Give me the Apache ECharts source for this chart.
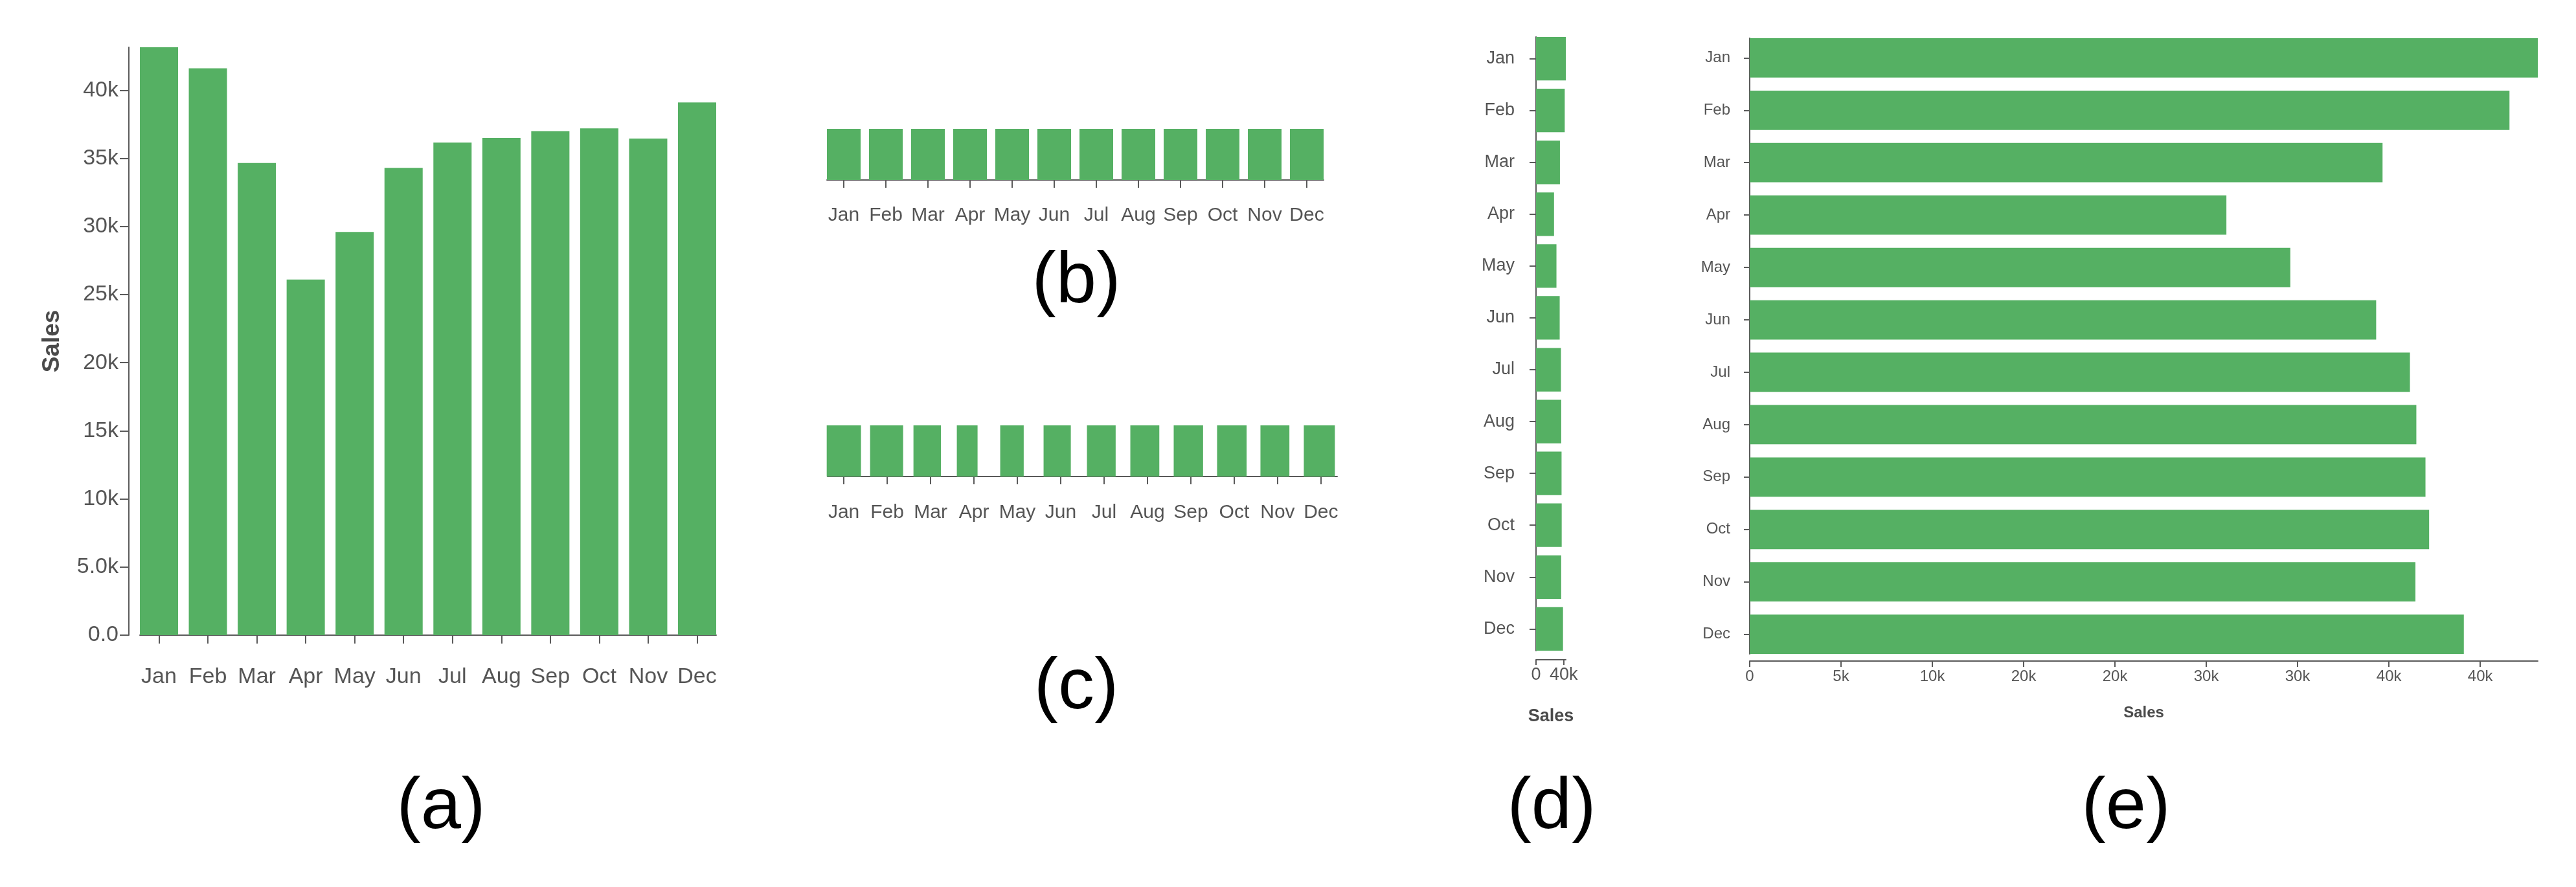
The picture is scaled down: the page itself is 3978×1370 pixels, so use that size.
<!DOCTYPE html>
<html>
<head>
<meta charset="utf-8">
<script src="https://cdn.jsdelivr.net/npm/echarts@6/dist/echarts.min.js"></script>
<style>
  html, body { margin: 0; padding: 0; background: #fff; }
  #chart { width: 3978px; height: 1370px; }
</style>
</head>
<body>
<div id="chart"></div>
<script>
// data (same monthly sales in every panel)
const months = ['Jan', 'Feb', 'Mar', 'Apr', 'May', 'Jun', 'Jul', 'Aug', 'Sep', 'Oct', 'Nov', 'Dec'];
const sales = [43150, 41600, 34650, 26100, 29600, 34300, 36150, 36500, 37000, 37200, 36450, 39100];

// tick values and their labels
const salesTicksA = [0, 5000, 10000, 15000, 20000, 25000, 30000, 35000, 40000];
const salesLabelsA = ['0.0', '5.0k', '10k', '15k', '20k', '25k', '30k', '35k', '40k'];
const salesTicksD = [0, 40000];
const salesLabelsD = ['0', '40k'];
const salesTicksE = [0, 5000, 10000, 15000, 20000, 25000, 30000, 35000, 40000];
const salesLabelsE = ['0', '5k', '10k', '20k', '20k', '30k', '30k', '40k', '40k'];

const GREEN = '#55b063';
const AXIS = '#5a5a5a';
const TEXT = '#555555';
const FONT = 'Liberation Sans, Arial, sans-serif';

const monthIdx = months.map((m, i) => i);
const maxSales = Math.max(...sales);
const minSales = Math.min(...sales);

function axis(o) {
  return {
    type: 'value',
    gridIndex: o.grid,
    min: o.min,
    max: o.max,
    inverse: !!o.inverse,
    offset: o.offset || 0,
    show: o.show !== false,
    axisLine: {show: true, onZero: false, lineStyle: {color: AXIS, width: 2}},
    axisTick: {show: true, length: o.tick, customValues: o.ticks, lineStyle: {color: AXIS, width: 2}},
    axisLabel: {
      show: true, customValues: o.ticks, fontSize: o.fontSize, margin: o.margin,
      color: TEXT, fontFamily: FONT, formatter: o.formatter
    },
    splitLine: {show: false},
    name: o.name || '',
    nameLocation: 'middle',
    nameGap: o.nameGap || 0,
    nameTextStyle: {fontSize: o.nameSize || 24, fontWeight: 'bold', color: '#4a4a4a', fontFamily: FONT}
  };
}

const monthFmt = v => months[Math.round(v)];
const bandAxis = (grid, f, fontSize, margin, tick, inverse) => axis({
  grid, min: -f / 2, max: months.length - 1 + f / 2, ticks: monthIdx,
  fontSize, margin, tick, inverse, formatter: monthFmt
});
const hidden = (grid, max) => ({type: 'value', gridIndex: grid, min: 0, max, show: false, splitLine: {show: false}});

// vertical bars: f = bar width in band units
function vBars(f, mode) {
  return function (params, api) {
    const i = api.value(0), v = api.value(1);
    const cs = params.coordSys;
    const base = api.coord([i, 0]);
    let w = api.size([f, 0])[0];
    let x = base[0] - w / 2;
    let top = api.coord([i, v])[1];
    let bottom = base[1];
    if (mode === 'clip') top = Math.max(top, cs.y);
    if (mode === 'width') {
      // width encodes the value, bars start at the band's left edge
      w = api.size([f * v / maxSales, 0])[0];
      x = api.coord([i - f / 2, 0])[0];
      top = cs.y;
      bottom = cs.y + cs.height;
    }
    return {type: 'rect', shape: {x: x, y: top, width: w, height: bottom - top}, style: {fill: GREEN}};
  };
}

// horizontal bars
function hBars(f) {
  return function (params, api) {
    const v = api.value(0), i = api.value(1);
    const p0 = api.coord([0, i]);
    const p1 = api.coord([v, i]);
    const h = api.size([0, f])[1];
    return {type: 'rect', shape: {x: p0[0], y: p0[1] - h / 2, width: p1[0] - p0[0], height: h}, style: {fill: GREEN}};
  };
}

const vData = sales.map((v, i) => [i, v]);
const hData = sales.map((v, i) => [v, i]);

const F_A = 0.781, F_B = 0.8, F_C = 0.75, F_D = 0.84, F_E = 0.75;

const chart = echarts.init(document.getElementById('chart'));
chart.setOption({
  animation: false,
  backgroundColor: '#fff',
  grid: [
    {left: 216, top: 73, width: 890, height: 908, outerBoundsMode: 'none'},
    {left: 1277, top: 199, width: 767, height: 79, outerBoundsMode: 'none'},
    {left: 1278, top: 657, width: 787, height: 79, outerBoundsMode: 'none'},
    {left: 2372, top: 57, width: 46, height: 948, outerBoundsMode: 'none'},
    {left: 2702, top: 59, width: 1217, height: 951, outerBoundsMode: 'none'}
  ],
  xAxis: [
    bandAxis(0, F_A, 34, 48, 13),
    bandAxis(1, F_B, 30, 40, 12),
    bandAxis(2, F_C, 30, 41, 12),
    axis({grid: 3, min: 0, max: maxSales, ticks: salesTicksD, fontSize: 27, margin: 10, tick: 8, offset: 14,
      formatter: v => salesLabelsD[salesTicksD.indexOf(v)], name: 'Sales', nameGap: 74, nameSize: 27}),
    axis({grid: 4, min: 0, max: maxSales, ticks: salesTicksE, fontSize: 24, margin: 12, tick: 9, offset: 11,
      formatter: v => salesLabelsE[salesTicksE.indexOf(v)], name: 'Sales', nameGap: 68, nameSize: 24})
  ],
  yAxis: [
    axis({grid: 0, min: 0, max: maxSales, ticks: salesTicksA, fontSize: 34, margin: 16, tick: 14, offset: 17,
      formatter: v => salesLabelsA[salesTicksA.indexOf(v)], name: 'Sales', nameGap: 100, nameSize: 37}),
    hidden(1, minSales),
    hidden(2, 1),
    bandAxis(3, F_D, 27, 33, 10, true),
    bandAxis(4, F_E, 24, 30, 9, true)
  ],
  series: [
    {type: 'custom', xAxisIndex: 0, yAxisIndex: 0, data: vData, encode: {x: 0, y: 1}, renderItem: vBars(F_A), silent: true},
    {type: 'custom', xAxisIndex: 1, yAxisIndex: 1, data: vData, encode: {x: 0, y: 1}, renderItem: vBars(F_B, 'clip'), silent: true},
    {type: 'custom', xAxisIndex: 2, yAxisIndex: 2, data: vData, encode: {x: 0}, renderItem: vBars(0.79, 'width'), silent: true},
    {type: 'custom', xAxisIndex: 3, yAxisIndex: 3, data: hData, encode: {x: 0, y: 1}, renderItem: hBars(F_D), silent: true},
    {type: 'custom', xAxisIndex: 4, yAxisIndex: 4, data: hData, encode: {x: 0, y: 1}, renderItem: hBars(F_E), silent: true}
  ],
  graphic: [
    ['(a)', 681, 1248], ['(b)', 1662, 436], ['(c)', 1662, 1063], ['(d)', 2396, 1248], ['(e)', 3283, 1248]
  ].map(t => ({
    type: 'text', x: t[1], y: t[2],
    style: {text: t[0], fontSize: 112, fontFamily: FONT, fill: '#000', align: 'center', verticalAlign: 'middle'}
  }))
});
</script>
</body>
</html>
